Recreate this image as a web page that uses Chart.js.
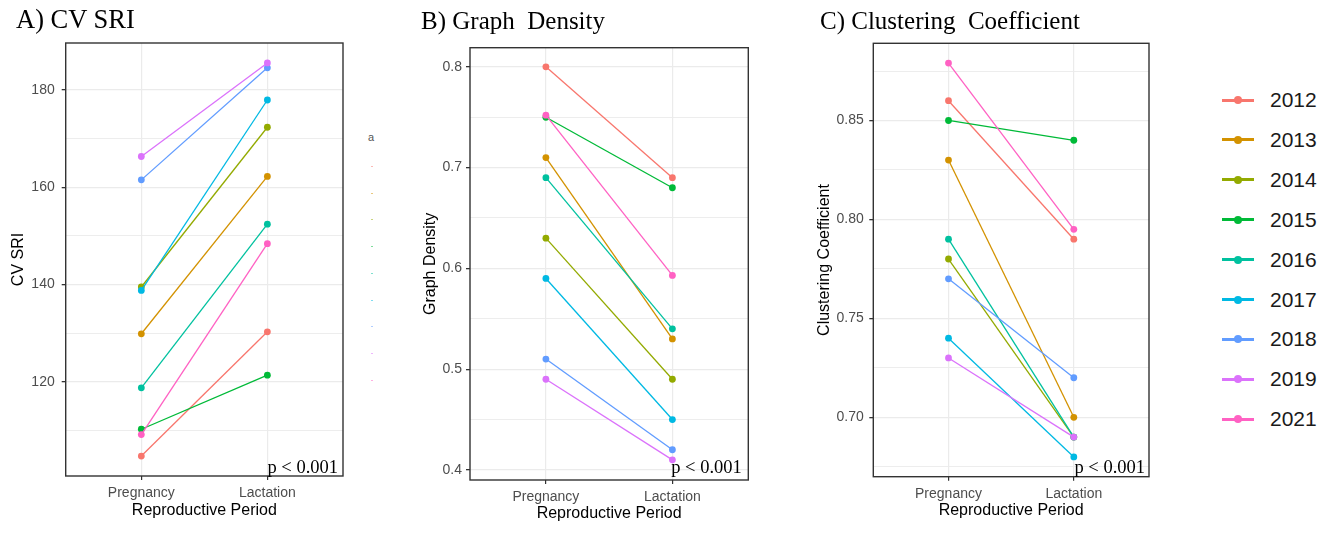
<!DOCTYPE html>
<html>
<head>
<meta charset="utf-8">
<script src="https://cdn.jsdelivr.net/npm/chart.js@4.4.0/dist/chart.umd.min.js"></script>
<style>
  body { margin: 0; background: #fff; width: 1335px; height: 537px; position: relative; overflow: hidden;
         font-family: "Liberation Sans", Arial, sans-serif; }
  canvas { position: absolute; top: 0; }
  .ptitle { position: absolute; top: 8px; font-family: "Liberation Serif", "Times New Roman", serif;
            font-size: 25px; line-height: 25px; white-space: pre; color: #000; }
  .lg { position: absolute; left: 1222px; height: 24px; width: 110px; }
  .lg .ln { position: absolute; left: 0; top: 10.5px; width: 32px; height: 3px; }
  .lg .dt { position: absolute; left: 12px; top: 8px; width: 8px; height: 8px; border-radius: 50%; }
  .lg .tx { position: absolute; left: 48px; top: 0; font-size: 21px; line-height: 24px; color: #1a1a1a; }
  .ghost { position: absolute; left: 371px; width: 2px; height: 1px; }
</style>
</head>
<body>
<canvas id="cA"></canvas>
<canvas id="cB"></canvas>
<canvas id="cC"></canvas>
<div class="ptitle" style="left:16px;font-size:26.5px;top:7px">A) CV SRI</div>
<div class="ptitle" style="left:421px">B) Graph  Density</div>
<div class="ptitle" style="left:820px">C) Clustering  Coefficient</div>
<div style="position:absolute;left:368px;top:131px;font-size:11px;color:#555;">a</div>
<div id="legend"></div>
<script>
const years = ['2012', '2013', '2014', '2015', '2016', '2017', '2018', '2019', '2021'];
const colors = ['#F8766D', '#D39200', '#93AA00', '#00BA38', '#00C19F', '#00B9E3', '#619CFF', '#DB72FB', '#FF61C3'];
const periods = ['Pregnancy', 'Lactation'];

// values, one per year
const cvPregnancy = [104.8, 129.9, 139.5, 110.3, 118.8, 138.8, 161.5, 166.3, 109.2];
const cvLactation = [130.3, 162.2, 172.3, 121.4, 152.4, 177.9, 184.5, 185.5, 148.4];
const densityPregnancy = [0.80, 0.71, 0.63, 0.75, 0.69, 0.59, 0.51, 0.49, 0.752];
const densityLactation = [0.69, 0.53, 0.49, 0.68, 0.54, 0.45, 0.42, 0.41, 0.593];
const clusterPregnancy = [0.86, 0.83, 0.78, 0.85, 0.79, 0.74, 0.77, 0.73, 0.879];
const clusterLactation = [0.79, 0.70, 0.69, 0.84, 0.69, 0.68, 0.72, 0.69, 0.795];

// tick values (major ones are labelled, minor ones only get a grid line)
const cvTicks = [120, 140, 160, 180];
const cvMinor = [110, 130, 150, 170];
const densityTicks = [0.4, 0.5, 0.6, 0.7, 0.8];
const densityMinor = [0.45, 0.55, 0.65, 0.75];
const clusterTicks = [0.70, 0.75, 0.80, 0.85];
const clusterMinor = [0.675, 0.725, 0.775, 0.825, 0.875];

const pText = 'p < 0.001';
const FONT = '"Liberation Sans", Arial, sans-serif';
const H = 537;

const panels = [
  { id: 'cA', left: 0, width: 350, area: { l: 65.7, t: 43, r: 343, b: 476 },
    pre: cvPregnancy, lac: cvLactation, min: 100.7, max: 189.6, major: cvTicks, minor: cvMinor, dec: 0,
    yTitle: 'CV SRI', yTitlePad: 9, tickPad: 7, xTitlePad: 17, pOff: [5, 3] },
  { id: 'cB', left: 400, width: 360, area: { l: 70, t: 47.7, r: 348.3, b: 480 },
    pre: densityPregnancy, lac: densityLactation, min: 0.39, max: 0.819, major: densityTicks, minor: densityMinor, dec: 1,
    yTitle: 'Graph Density', yTitlePad: 21, tickPad: 4, xTitlePad: 14, pOff: [6.5, 7] },
  { id: 'cC', left: 800, width: 355, area: { l: 73.3, t: 43.3, r: 349, b: 476.7 },
    pre: clusterPregnancy, lac: clusterLactation, min: 0.670, max: 0.889, major: clusterTicks, minor: clusterMinor, dec: 2,
    yTitle: 'Clustering Coefficient', yTitlePad: 15, tickPad: 5.5, xTitlePad: 17, pOff: [4, 4] }
];

const boxPlugin = {
  id: 'box',
  afterDatasetsDraw(chart, args, opts) {
    const { ctx, chartArea: a } = chart;
    ctx.save();
    ctx.strokeStyle = '#333';
    ctx.lineWidth = 1.4;
    ctx.strokeRect(a.left, a.top, a.right - a.left, a.bottom - a.top);
    ctx.fillStyle = '#000';
    ctx.font = '18.5px "Liberation Serif", "Times New Roman", serif';
    ctx.textAlign = 'right';
    ctx.textBaseline = 'alphabetic';
    ctx.fillText(pText, a.right - opts.off[0], a.bottom - opts.off[1]);
    ctx.restore();
  }
};

panels.forEach(p => {
  const canvas = document.getElementById(p.id);
  canvas.width = p.width;
  canvas.height = H;
  canvas.style.left = p.left + 'px';
  canvas.style.width = p.width + 'px';
  canvas.style.height = H + 'px';

  const isMajor = v => p.major.includes(v);

  const datasets = years.map((yr, i) => ({
    label: yr,
    data: [{ x: 1, y: p.pre[i] }, { x: 2, y: p.lac[i] }],
    borderColor: colors[i],
    backgroundColor: colors[i],
    borderWidth: 1.3,
    pointRadius: 3.4,
    pointBorderWidth: 0,
    order: years.length - i
  }));

  new Chart(canvas, {
    type: 'line',
    data: { datasets },
    options: {
      responsive: false,
      animation: false,
      devicePixelRatio: 1,
      layout: { padding: { top: p.area.t, right: p.width - p.area.r, left: 0, bottom: 0 } },
      plugins: { legend: { display: false }, tooltip: { enabled: false }, box: { off: p.pOff } },
      scales: {
        x: {
          type: 'linear', min: 0.4, max: 2.6,
          afterBuildTicks: s => { s.ticks = periods.map((_, i) => ({ value: i + 1 })); },
          afterFit: s => { s.height = H - p.area.b; },
          ticks: { callback: v => periods[v - 1] || '', color: '#4d4d4d', font: { size: 14, family: FONT }, padding: 5, maxRotation: 0 },
          grid: { color: '#ebebeb', lineWidth: 1.2, tickLength: 4, tickColor: '#333' },
          border: { display: false },
          title: { display: true, text: 'Reproductive Period', color: '#000', font: { size: 16, family: FONT },
                   padding: { top: 0, bottom: p.xTitlePad } }
        },
        y: {
          min: p.min, max: p.max,
          afterBuildTicks: s => {
            s.ticks = p.major.concat(p.minor).sort((a, b) => a - b).map(v => ({ value: v }));
          },
          afterFit: s => { s.width = p.area.l; },
          ticks: { callback: v => isMajor(v) ? v.toFixed(p.dec) : '', color: '#4d4d4d',
                   font: { size: 14, family: FONT }, padding: p.tickPad },
          grid: {
            color: '#ebebeb',
            lineWidth: c => isMajor(c.tick.value) ? 1.3 : 0.9,
            tickLength: 4,
            tickColor: c => isMajor(c.tick.value) ? '#333' : 'rgba(0,0,0,0)'
          },
          border: { display: false },
          title: { display: true, text: p.yTitle, color: '#000', font: { size: 16, family: FONT },
                   padding: { top: p.yTitlePad, bottom: 0 } }
        }
      }
    },
    plugins: [boxPlugin]
  });
});

// legend on the right, and the faint cut-off legend stub beside panel A
const legend = document.getElementById('legend');
years.forEach((yr, i) => {
  const row = document.createElement('div');
  row.className = 'lg';
  row.style.top = (100 + 39.9 * i - 12) + 'px';
  row.innerHTML = '<div class="ln" style="background:' + colors[i] + '"></div>' +
                  '<div class="dt" style="background:' + colors[i] + '"></div>' +
                  '<div class="tx">' + yr + '</div>';
  legend.appendChild(row);

  const g = document.createElement('div');
  g.className = 'ghost';
  g.style.top = (166 + 26.7 * i) + 'px';
  g.style.background = colors[i];
  g.style.opacity = 0.5;
  legend.appendChild(g);
});
</script>
</body>
</html>
